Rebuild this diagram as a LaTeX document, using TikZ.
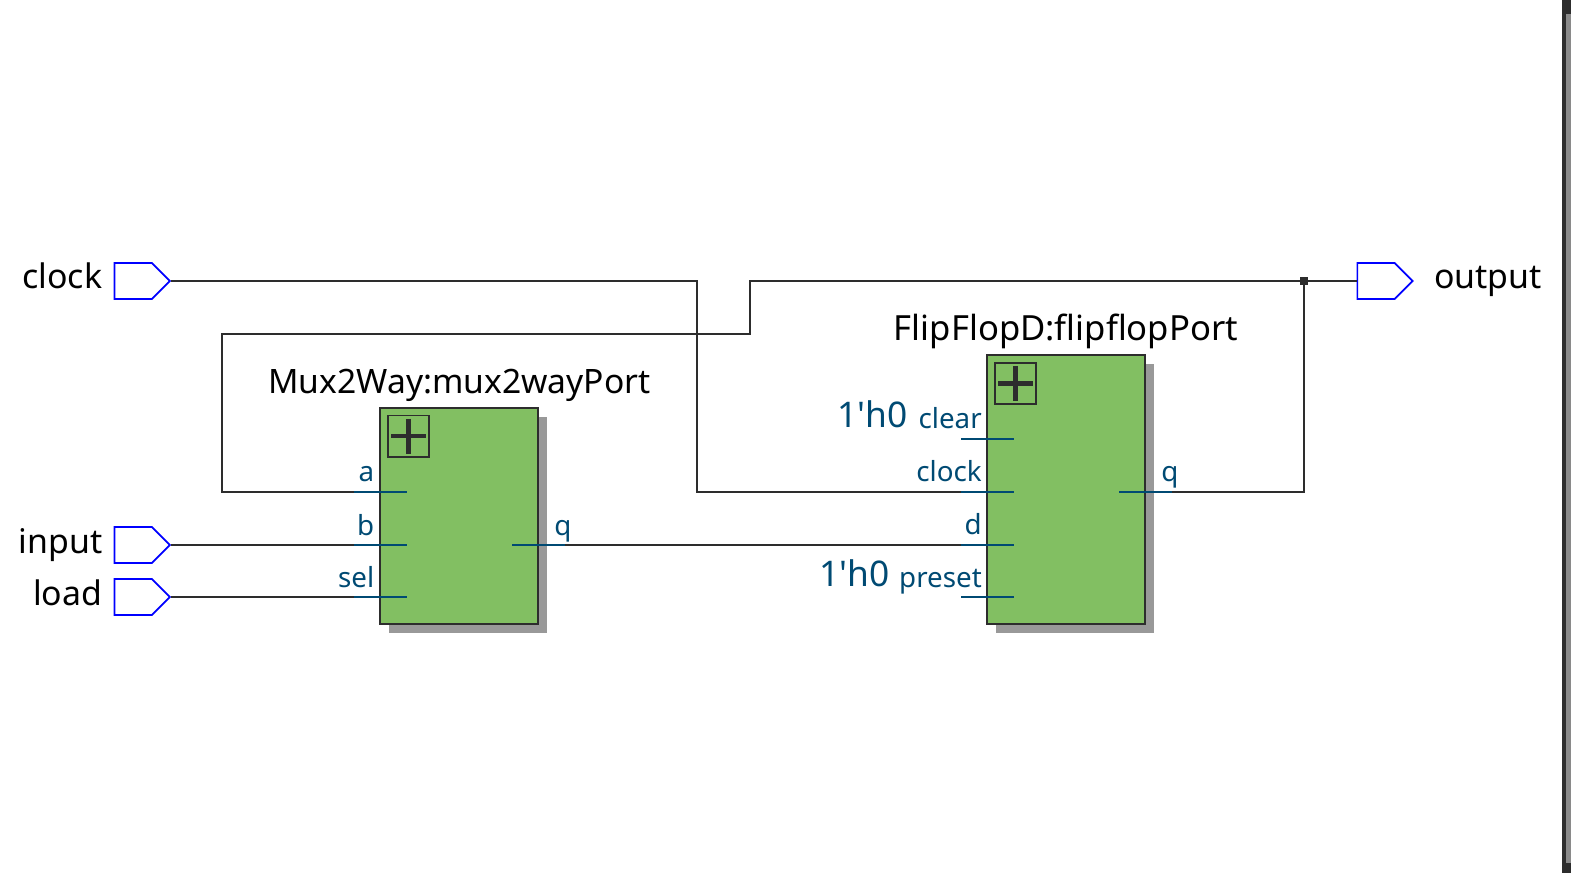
\documentclass[tikz,border=0pt]{standalone}
\usepackage{fontspec}
\setmainfont{Noto Sans}
\newfontfamily\constfont{Noto Sans}
\usetikzlibrary{shapes.symbols,shadows}
\definecolor{wirecol}{HTML}{2D2D2D}
\definecolor{pincol}{HTML}{004A73}
\definecolor{blockcol}{HTML}{82BF62}
\definecolor{shadecol}{HTML}{999999}
\tikzset{
  wire/.style={draw=wirecol,line width=1.2pt},
  pin/.style={draw=pincol,line width=1.2pt},
  portbox/.style={draw=blue,line width=1.3pt,signal,signal to=east,signal pointer angle=90,minimum width=41.5pt,minimum height=27pt,inner sep=0pt},
  block/.style={draw=wirecol,line width=1.3pt,fill=blockcol,minimum width=118.5pt,drop shadow={shadow xshift=6.75pt,shadow yshift=-6.75pt,fill=shadecol,opacity=1},inner sep=0pt},
  plusbox/.style={draw=wirecol,line width=1.1pt,minimum width=30.8pt,minimum height=30.8pt,inner sep=0pt},
  portname/.style={font=\fontsize{25.4}{25.4}\selectfont,inner sep=0pt},
  blockname/.style={font=\fontsize{25.2}{25.2}\selectfont,inner sep=0pt,anchor=base},
  pinname/.style={font=\fontsize{20.8}{20.8}\selectfont,text=pincol,inner sep=0pt},
  constname/.style={font=\constfont\fontsize{26.5}{26.5}\selectfont,text=pincol,inner sep=0pt,anchor=base east}
}
\begin{document}
\begin{tikzpicture}[x=0.75pt,y=-0.75pt]
  \useasboundingbox (0,0) rectangle (1571,873);
  % window edge
  \fill[wirecol] (1562,0) rectangle (1571,873);
  \fill[shadecol!90!black] (1566,14) rectangle (1571,863);

  % ports
  \node[portbox,anchor=west] (clockport) at (113.6,281) {};
  \node[portbox,anchor=west] (inputport) at (113.6,545) {};
  \node[portbox,anchor=west] (loadport) at (113.6,597) {};
  \node[portbox,anchor=west] (outputport) at (1356.5,281) {};
  \node[portname,anchor=base east] (clockname) at (102.5,289) {clock};
  \node[portname,anchor=base east] (inputname) at (102.5,553) {input};
  \node[portname,anchor=base east] (loadname) at (102.5,605) {load};
  \node[portname,anchor=base west] (outputname) at (1434,289) {output};

  % blocks
  \node[block,minimum height=162pt] (mux) at (459,516) {};
  \node[block,minimum height=201.75pt] (flipflop) at (1066,489.5) {};
  \node[blockname] (muxname) at (459.5,394) {Mux2Way:mux2wayPort};
  \node[blockname,font=\fontsize{26}{26}\selectfont] (flipflopname) at (1066,341) {FlipFlopD:flipflopPort};
  \foreach \name/\x/\y in {muxplus/408.6/436.3,flipflopplus/1015.5/383.4}{
    \node[plusbox] (\name) at (\x,\y) {};
    \draw[wirecol,line width=3.2pt] (\name.center) ++(-17.5,0) -- ++(35,0);
    \draw[wirecol,line width=3.2pt] (\name.center) ++(0,-17.5) -- ++(0,35);
  }

  % pin ends
  \foreach \name/\x/\y in {pina/354/492,pinb/354/545,pinsel/354/597,
    pinclear/961/439,pinclock/961/492,pind/961/545,pinpreset/961/597,
    muxq/512/545,ffq/1119/492}{
    \coordinate (\name) at (\x,\y);
    \coordinate (\name-end) at (\x+53,\y);
  }

  % wires
  \coordinate (junction) at (1304,281);
  \draw[wire] (clockport.east) -- (697,281) -- (697,492) -- (pinclock);
  \draw[wire] (inputport.east) -- (pinb);
  \draw[wire] (loadport.east) -- (pinsel);
  \draw[wire] (muxq-end) -- (pind);
  \draw[wire] (ffq-end) -- (1304,492) -- (junction);
  \draw[wire] (outputport.west) -- (junction) -- (750,281) -- (750,334) -- (222,334) -- (222,492) -- (pina);
  \fill[wirecol] (junction) ++(-4,-4) rectangle ++(8,8);

  % pins
  \foreach \name in {pina,pinb,pinsel,pinclear,pinclock,pind,pinpreset,muxq,ffq}{
    \draw[pin] (\name) -- (\name-end);
  }
  \node[pinname,anchor=base east] (aname) at (374.5,482) {a};
  \node[pinname,anchor=base east] (bname) at (374.5,535) {b};
  \node[pinname,anchor=base east] (selname) at (374.5,587) {sel};
  \node[pinname,anchor=base west] (muxqname) at (554,535) {q};
  \node[pinname,anchor=base east] (clearname) at (982,429) {clear};
  \node[pinname,anchor=base east] (clockpinname) at (982,482) {clock};
  \node[pinname,anchor=base east] (dname) at (982,534) {d};
  \node[pinname,anchor=base east] (presetname) at (982,587) {preset};
  \node[pinname,anchor=base west] (ffqname) at (1161,482) {q};
  \node[constname] (clearconst) at (908,427.5) {1'h0};
  \node[constname] (presetconst) at (889.5,586) {1'h0};
\end{tikzpicture}
\end{document}
